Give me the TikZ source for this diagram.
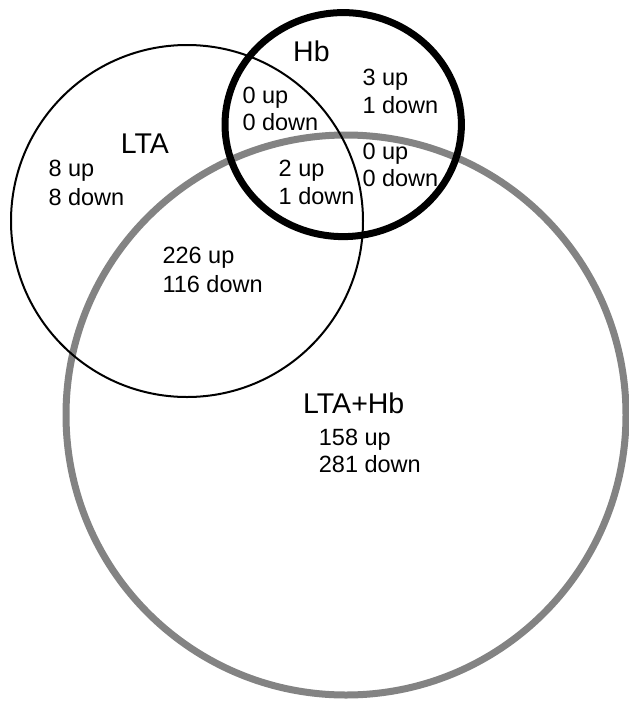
\documentclass[tikz,border=0pt]{standalone}
\usepackage{fontspec}
\setmainfont{Liberation Sans}
\definecolor{ringgray}{RGB}{131,131,131}
\begin{document}
\begin{tikzpicture}[x=1pt,y=-1pt,
  lbl/.style={font=\fontsize{23.5}{28}\selectfont, anchor=base west, inner sep=0pt},
  ttl/.style={font=\fontsize{28.5}{32}\selectfont, anchor=base west, inner sep=0pt},
  grayring/.style={draw=ringgray, line width=7pt},
  thinring/.style={draw=black, line width=2pt},
  thickring/.style={draw=black, line width=7pt}]
\useasboundingbox (0,0) rectangle (629,702);
% circles
\draw[grayring] (346,415) circle [radius=280];
\draw[thinring] (187,221) circle [radius=176];
\draw[thickring] (343.2,124.6) ellipse [x radius=118.2, y radius=112];
% titles
\node[ttl] (tLTA) at (120.7,153.3) {LTA};
\node[ttl] (tHb) at (293,61.7) {Hb};
\node[ttl] (tBoth) at (303,413.3) {LTA+Hb};
% counts
\node[lbl] (a1) at (48.3,176.7) {8 up};
\node[lbl] (a2) at (48.3,205) {8 down};
\node[lbl] (b1) at (242.3,103.3) {0 up};
\node[lbl] (b2) at (242.3,130.7) {0 down};
\node[lbl] (c1) at (362.3,85) {3 up};
\node[lbl] (c2) at (362.3,113.3) {1 down};
\node[lbl] (d1) at (362.3,159.3) {0 up};
\node[lbl] (d2) at (362.3,186.7) {0 down};
\node[lbl] (e1) at (278.5,176.7) {2 up};
\node[lbl] (e2) at (278.5,204) {1 down};
\node[lbl] (f1) at (162.3,263.3) {226 up};
\node[lbl] (f2) at (162.3,292.7) {116 down};
\node[lbl] (g1) at (318.7,445) {158 up};
\node[lbl] (g2) at (318.7,472.7) {281 down};
\end{tikzpicture}
\end{document}
